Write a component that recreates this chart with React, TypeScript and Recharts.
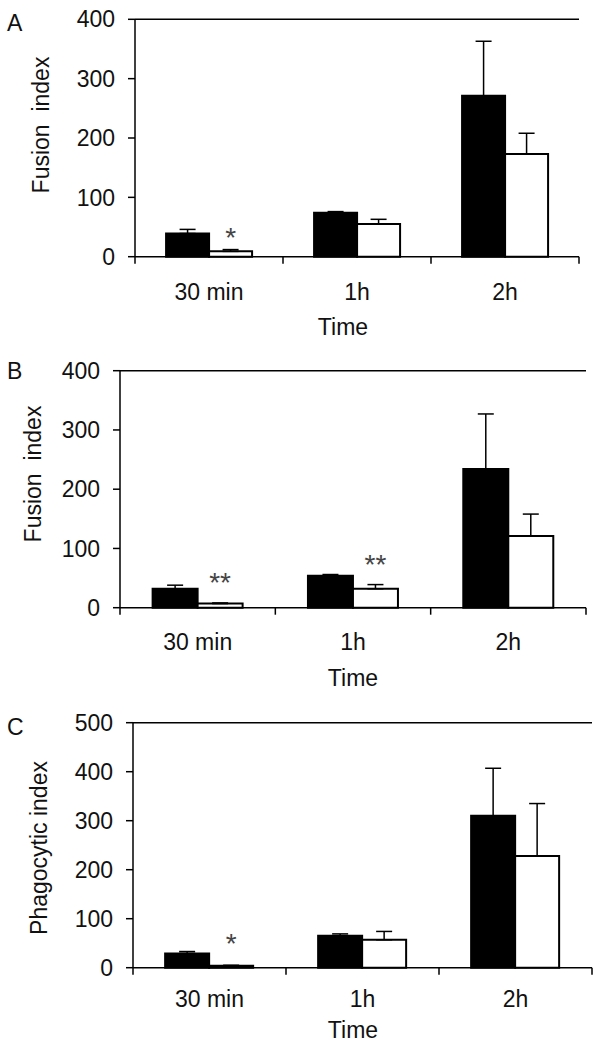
import React from 'react';
import { BarChart, Bar, XAxis, YAxis, ErrorBar, LabelList, ReferenceLine } from 'recharts';

const categories = ['30 min', '1h', '2h'];

const fusionA_black = [39, 74, 271];
const fusionA_blackErr = [7, 2, 92];
const fusionA_white = [9, 55, 173];
const fusionA_whiteErr = [3, 8, 35];
const fusionA_stars = ['*', '', ''];

const fusionB_black = [32, 54, 234];
const fusionB_blackErr = [6, 2, 93];
const fusionB_white = [7, 32, 121];
const fusionB_whiteErr = [1, 7, 37];
const fusionB_stars = ['**', '**', ''];

const phagoC_black = [29, 65, 310];
const phagoC_blackErr = [4, 4, 97];
const phagoC_white = [4, 57, 228];
const phagoC_whiteErr = [1, 17, 107];
const phagoC_stars = ['*', '', ''];

const yTicksFusion = [0, 100, 200, 300, 400];
const yTicksPhago = [0, 100, 200, 300, 400, 500];

const FONT = '"Liberation Sans", Arial, sans-serif';
const TXT = '#111';
const FS = 23;

type PanelProps = {
  top: number;
  height: number;
  plotLeft: number;
  plotRight: number;
  plotTop: number;
  plotBottom: number;
  yMax: number;
  ticks: number[];
  black: number[];
  blackErr: number[];
  white: number[];
  whiteErr: number[];
  stars: string[];
  yLabel: string;
  yLabelX: number;
  yLabelY: number;
  letter: string;
  letterY: number;
  tickLabelY: number;
  timeX: number;
  timeY: number;
  starGap: number;
};

function Panel(p: PanelProps) {
  const data = categories.map((c, i) => ({
    time: c,
    black: p.black[i],
    blackErr: [0, p.blackErr[i]],
    white: p.white[i],
    whiteErr: [0, p.whiteErr[i]],
    star: p.stars[i],
  }));
  const xAxisHeight = p.height - (p.plotBottom - p.top);
  const bandFallback = (p.plotRight - p.plotLeft) / categories.length / 2;

  const CatTick = (props: any) => {
    const { x, payload, index } = props;
    const off = payload && payload.offset ? payload.offset : bandFallback;
    const baseY = p.plotBottom - p.top;
    return (
      <g>
        <line x1={x + off} x2={x + off} y1={baseY} y2={baseY + 7} stroke="#000" strokeWidth={1.5} />
        {index === 0 && (
          <line x1={x - off} x2={x - off} y1={baseY} y2={baseY + 7} stroke="#000" strokeWidth={1.5} />
        )}
        <text
          x={x}
          y={p.tickLabelY - p.top + 0.358 * FS}
          textAnchor="middle"
          fontSize={FS}
          fontFamily={FONT}
          fill={TXT}
        >
          {payload.value}
        </text>
      </g>
    );
  };

  const YLabel = () => {
    const cx = p.yLabelX + 0.34 * FS;
    const cy = p.yLabelY - p.top;
    return (
      <g>
        <text
          x={cx}
          y={cy}
          transform={`rotate(-90 ${cx} ${cy})`}
          textAnchor="middle"
          fontSize={FS}
          fontFamily={FONT}
          fill={TXT}
          style={{ whiteSpace: 'pre' }}
        >
          {p.yLabel}
        </text>
        <text x={7} y={p.letterY - p.top + 0.358 * 23} fontSize={23} fontFamily={FONT} fill={TXT}>
          {p.letter}
        </text>
      </g>
    );
  };

  const TimeLabel = () => (
    <text
      x={p.timeX}
      y={p.timeY - p.top + 0.358 * FS}
      textAnchor="middle"
      fontSize={FS}
      fontFamily={FONT}
      fill={TXT}
    >
      Time
    </text>
  );

  const StarLabel = (props: any) => {
    const { x, y, width, height, value, index } = props;
    if (!value) return null;
    const v = p.white[index];
    const ppu = v ? height / v : 0;
    const errTop = y - p.whiteErr[index] * ppu;
    const fs = 28;
    const cy = errTop - p.starGap;
    return (
      <text
        x={x + width / 2}
        y={cy + 0.57 * fs}
        textAnchor="middle"
        fontSize={fs}
        fontFamily={FONT}
        fill="#444"
      >
        {value}
      </text>
    );
  };

  return (
    <div style={{ position: 'absolute', left: 0, top: p.top, width: 604, height: p.height }}>
      <BarChart
        width={604}
        height={p.height}
        data={data}
        margin={{ top: p.plotTop - p.top, right: 604 - p.plotRight, bottom: 0, left: 0 }}
        barCategoryGap="21%"
        barGap={0}
      >
        <XAxis
          dataKey="time"
          height={xAxisHeight}
          axisLine={{ stroke: '#000', strokeWidth: 1.5 }}
          tickLine={false}
          tickSize={0}
          tickMargin={0}
          tick={<CatTick />}
          interval={0}
          label={{ content: <TimeLabel /> }}
        />
        <YAxis
          width={p.plotLeft}
          domain={[0, p.yMax]}
          ticks={p.ticks}
          interval={0}
          axisLine={{ stroke: '#000', strokeWidth: 1.5 }}
          tickLine={{ stroke: '#000', strokeWidth: 1.5 }}
          tickSize={7}
          tickMargin={13}
          tick={{ fontSize: FS, fontFamily: FONT, fill: TXT }}
          label={{ content: <YLabel /> }}
        />
        <YAxis
          yAxisId="right"
          orientation="right"
          width={0}
          domain={[0, p.yMax]}
          tick={false}
          tickLine={false}
          axisLine={{ stroke: '#000', strokeWidth: 1.5 }}
        />
        <ReferenceLine y={p.yMax} stroke="#000" strokeWidth={1.5} ifOverflow="visible" />
        <Bar dataKey="black" fill="#000" stroke="#000" strokeWidth={2} isAnimationActive={false}>
          <ErrorBar dataKey="blackErr" width={8} stroke="#000" strokeWidth={1.5} direction="y" />
        </Bar>
        <Bar dataKey="white" fill="#fff" stroke="#000" strokeWidth={2} isAnimationActive={false}>
          <ErrorBar dataKey="whiteErr" width={8} stroke="#000" strokeWidth={1.5} direction="y" />
          <LabelList dataKey="star" content={<StarLabel />} />
        </Bar>
      </BarChart>
    </div>
  );
}

export default function App() {
  return (
    <div style={{ position: 'absolute', left: 0, top: 0, width: 604, height: 1050, background: '#fff' }}>
      <Panel
        top={0}
        height={345}
        plotLeft={135}
        plotRight={579}
        plotTop={19.3}
        plotBottom={256.7}
        yMax={400}
        ticks={yTicksFusion}
        black={fusionA_black}
        blackErr={fusionA_blackErr}
        white={fusionA_white}
        whiteErr={fusionA_whiteErr}
        stars={fusionA_stars}
        yLabel="Fusion  index"
        yLabelX={41}
        yLabelY={125}
        letter="A"
        letterY={23}
        tickLabelY={291.7}
        timeX={343}
        timeY={327}
        starGap={19}
      />
      <Panel
        top={345}
        height={355}
        plotLeft={120}
        plotRight={586}
        plotTop={370.7}
        plotBottom={607.7}
        yMax={400}
        ticks={yTicksFusion}
        black={fusionB_black}
        blackErr={fusionB_blackErr}
        white={fusionB_white}
        whiteErr={fusionB_whiteErr}
        stars={fusionB_stars}
        yLabel="Fusion  index"
        yLabelX={33}
        yLabelY={474}
        letter="B"
        letterY={371}
        tickLabelY={641.7}
        timeX={353}
        timeY={678}
        starGap={27}
      />
      <Panel
        top={700}
        height={350}
        plotLeft={133}
        plotRight={592}
        plotTop={722.7}
        plotBottom={967.7}
        yMax={500}
        ticks={yTicksPhago}
        black={phagoC_black}
        blackErr={phagoC_blackErr}
        white={phagoC_white}
        whiteErr={phagoC_whiteErr}
        stars={phagoC_stars}
        yLabel="Phagocytic index"
        yLabelX={39}
        yLabelY={848}
        letter="C"
        letterY={727}
        tickLabelY={999}
        timeX={353}
        timeY={1030}
        starGap={28}
      />
    </div>
  );
}
